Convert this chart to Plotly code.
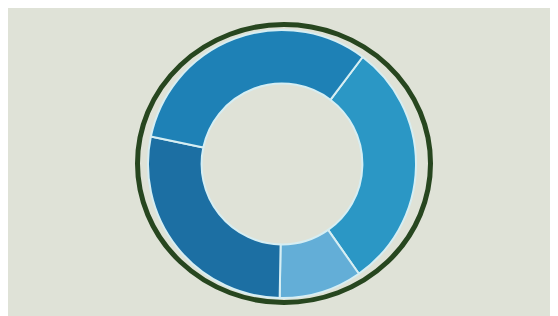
import plotly.graph_objects as go

labels = ["A", "B", "C", "D"]
values = [30, 10, 28, 32]
colors = ["#2b97c5", "#63aed7", "#1c6fa3", "#1e81b6"]

W, H = 558, 316
OFF = 8  # page body margin offset seen in screenshot

def px(x):
    return (x - OFF) / W

def py(y):
    return (H - (y - OFF)) / H

fig = go.Figure(go.Pie(
    labels=labels,
    values=values,
    hole=0.6,
    sort=False,
    direction="clockwise",
    rotation=37,
    textinfo="none",
    hoverinfo="none",
    marker=dict(colors=colors, line=dict(color="#d6eef3", width=2)),
    domain=dict(x=[px(148), px(416)], y=[py(298), py(30)]),
    showlegend=False,
))

shapes = [
    dict(type="circle", xref="paper", yref="paper",
         x0=px(137.5), x1=px(430.5), y0=py(302.5), y1=py(24.5),
         line=dict(color="#27461f", width=5), fillcolor="rgba(0,0,0,0)"),
]

fig.update_layout(
    width=W, height=H,
    margin=dict(l=0, r=0, t=0, b=0),
    paper_bgcolor="#dfe2d7",
    plot_bgcolor="#dfe2d7",
    shapes=shapes,
)

fig.write_html("out.html")
